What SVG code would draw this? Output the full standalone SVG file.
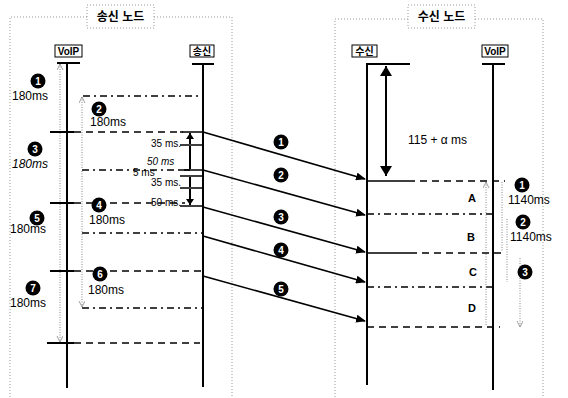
<svg xmlns="http://www.w3.org/2000/svg" width="568" height="398" viewBox="0 0 568 398">
<style>
text{font-family:"Liberation Sans","Noto Sans CJK KR",sans-serif;fill:#000}
.frame{fill:none;stroke:#999;stroke-width:1;stroke-dasharray:1 2}
.title{font-size:12px;font-weight:bold;text-anchor:middle}
.lbl{font-size:10px;font-weight:bold;text-anchor:middle}
.lblbox{fill:#fff;stroke:#000;stroke-width:1}
.life{stroke:#000;stroke-width:2;fill:none}
.tick{stroke:#000;stroke-width:2;fill:none}
.dash{stroke:#000;stroke-width:1.6;stroke-dasharray:7 5;fill:none}
.dashdot{stroke:#000;stroke-width:1.6;stroke-dasharray:7 4 2 4;fill:none}
.msg{stroke:#000;stroke-width:1.6;fill:none;marker-end:url(#ah)}
.ann{stroke:#888;stroke-width:1;stroke-dasharray:1 1.5;fill:none;marker-start:url(#oa);marker-end:url(#oa)}
.dbl{stroke:#000;stroke-width:2;fill:none;marker-start:url(#tri);marker-end:url(#tri)}
.big{stroke:#000;stroke-width:2;fill:none;marker-start:url(#btri);marker-end:url(#btri)}
.ms{font-size:12px}
.small{font-size:10px}
.num circle{fill:#000}
.num text{fill:#fff;font-size:10px;font-weight:bold;text-anchor:middle}
.let{font-size:11px;font-weight:bold;text-anchor:middle}
</style>
<defs>
<marker id="ah" markerUnits="userSpaceOnUse" markerWidth="10" markerHeight="8" refX="9" refY="4" orient="auto"><path d="M0,0 L10,4 L0,8 z" fill="#000"/></marker>
<marker id="tri" markerUnits="userSpaceOnUse" markerWidth="8" markerHeight="8" refX="6" refY="4" orient="auto-start-reverse"><path d="M0,0 L6,4 L0,8 z" fill="#000"/></marker>
<marker id="btri" markerUnits="userSpaceOnUse" markerWidth="12" markerHeight="12" refX="10" refY="6" orient="auto-start-reverse"><path d="M0,0 L10,6 L0,12 z" fill="#000"/></marker>
<marker id="oa" markerUnits="userSpaceOnUse" markerWidth="8" markerHeight="8" refX="6" refY="3" orient="auto-start-reverse"><path d="M0,0 L6,3 L0,6" fill="none" stroke="#888" stroke-width="0.8"/></marker>
</defs>

<g id="sender-node">
<path class="frame" d="M87,17 H10 V398 M154,17 H232 V398"/>
<rect class="frame" x="87" y="5" width="67" height="23"/>
<text class="title" x="120.5" y="21">송신 노드</text>
</g>
<g id="receiver-node">
<path class="frame" d="M408,19 H335 V398 M475,19 H543 V398"/>
<rect class="frame" x="408" y="5" width="67" height="23"/>
<text class="title" x="441.5" y="21">수신 노드</text>
</g>

<g id="voip-tx">
<rect class="lblbox" x="55" y="45" width="27" height="12"/>
<text class="lbl" x="68.5" y="55">VoIP</text>
<path class="tick" d="M57,63 H80"/>
<path class="life" d="M67,63 V388"/>
</g>
<g id="tx">
<rect class="lblbox" x="190" y="45" width="24" height="12"/>
<text class="lbl" x="202" y="55">송신</text>
<path class="tick" d="M192,64 H214"/>
<path class="life" d="M203,64 V387"/>
</g>
<g id="rx">
<rect class="lblbox" x="352" y="45" width="25" height="12"/>
<text class="lbl" x="364.5" y="55">수신</text>
<path class="tick" d="M366,64 H410"/>
<path class="life" d="M367,64 V385"/>
</g>
<g id="voip-rx">
<rect class="lblbox" x="482" y="45" width="26" height="12"/>
<text class="lbl" x="495" y="55">VoIP</text>
<path class="tick" d="M482,64 H505"/>
<path class="life" d="M493,64 V390"/>
</g>

<g id="sender-timing">
<path class="tick" d="M50,132 H74 M50,203 H74 M50,271 H74 M47,343 H74"/>
<path class="dash" d="M74,132 H183 M74,203 H185 M74,271 H203 M74,343 H200"/>
<path class="dashdot" d="M83,96 H203 M82,170 H190 M82,233 H203 M82,308 H203"/>
<path class="ann" d="M60,64 V131 M60,133 V202 M60,204 V270 M60,272 V342"/>
<path class="ann" d="M82,97 V169 M82,171 V232 M82,234 V307"/>
<path class="tick" d="M180,132 H203 M180,145 H203 M180,170 H203 M180,176 H203 M180,188 H203 M180,206 H203" style="stroke-width:1.5"/>
<path class="dbl" d="M190,133 V144 M190,146 V169 M190,177 V187 M190,189 V205"/>
<text class="small" x="181" y="147" text-anchor="end">35 ms.</text>
<text class="small" x="147" y="165" font-style="italic">50 ms</text>
<text class="small" x="133" y="176">5 ms</text>
<text class="small" x="181" y="186" text-anchor="end">35 ms.</text>
<text class="small" x="181" y="206" text-anchor="end">50 ms.</text>
<g class="num"><circle cx="38" cy="81" r="7.5"/><text x="38" y="84.5">1</text></g>
<g class="num"><circle cx="99" cy="109" r="7.5"/><text x="99" y="112.5">2</text></g>
<g class="num"><circle cx="35" cy="149" r="7.5"/><text x="35" y="152.5">3</text></g>
<g class="num"><circle cx="99" cy="205" r="7.5"/><text x="99" y="208.5">4</text></g>
<g class="num"><circle cx="37" cy="218" r="7.5"/><text x="37" y="221.5">5</text></g>
<g class="num"><circle cx="100" cy="274" r="7.5"/><text x="100" y="277.5">6</text></g>
<g class="num"><circle cx="33" cy="288" r="7.5"/><text x="33" y="291.5">7</text></g>
<text class="ms" x="12" y="100">180ms</text>
<text class="ms" x="90" y="126">180ms</text>
<text class="ms" x="12" y="168" font-style="italic">180ms</text>
<text class="ms" x="89" y="224">180ms</text>
<text class="ms" x="10" y="233">180ms</text>
<text class="ms" x="88" y="294">180ms</text>
<text class="ms" x="10" y="307">180ms</text>
</g>

<g id="connectors">
<path class="msg" d="M203,132 L365,179"/>
<path class="msg" d="M203,170 L365,215"/>
<path class="msg" d="M203,207 L365,252"/>
<path class="msg" d="M203,236 L365,282"/>
<path class="msg" d="M203,276 L365,321"/>
<g class="num"><circle cx="281" cy="142" r="7.5"/><text x="281" y="145.5">1</text></g>
<g class="num"><circle cx="281" cy="175" r="7.5"/><text x="281" y="178.5">2</text></g>
<g class="num"><circle cx="281" cy="217" r="7.5"/><text x="281" y="220.5">3</text></g>
<g class="num"><circle cx="281" cy="250" r="7.5"/><text x="281" y="253.5">4</text></g>
<g class="num"><circle cx="281" cy="289" r="7.5"/><text x="281" y="292.5">5</text></g>
</g>

<g id="receiver-timing">
<path class="big" d="M386,66 V176"/>
<text class="ms" x="408" y="144">115 + α ms</text>
<path class="tick" d="M367,181 H408 M367,253 H410" style="stroke-width:1.6"/>
<path class="dash" d="M408,181 H505 M410,253 H503 M367,327 H500"/>
<path class="dashdot" d="M367,214 H493 M367,287 H493"/>
<text class="let" x="472" y="202">A</text>
<text class="let" x="471" y="241">B</text>
<text class="let" x="473" y="276">C</text>
<text class="let" x="472" y="312">D</text>
<path class="ann" d="M486,182 V252 M486,254 V326 M502,182 V252 M507,219 V282 M520,258 V327"/>
<g class="num"><circle cx="522" cy="185" r="7.5"/><text x="522" y="188.5">1</text></g>
<g class="num"><circle cx="523" cy="222" r="7.5"/><text x="523" y="225.5">2</text></g>
<g class="num"><circle cx="525" cy="272" r="7.5"/><text x="525" y="275.5">3</text></g>
<text class="ms" x="508" y="204">1140ms</text>
<text class="ms" x="510" y="241">1140ms</text>
</g>
</svg>
